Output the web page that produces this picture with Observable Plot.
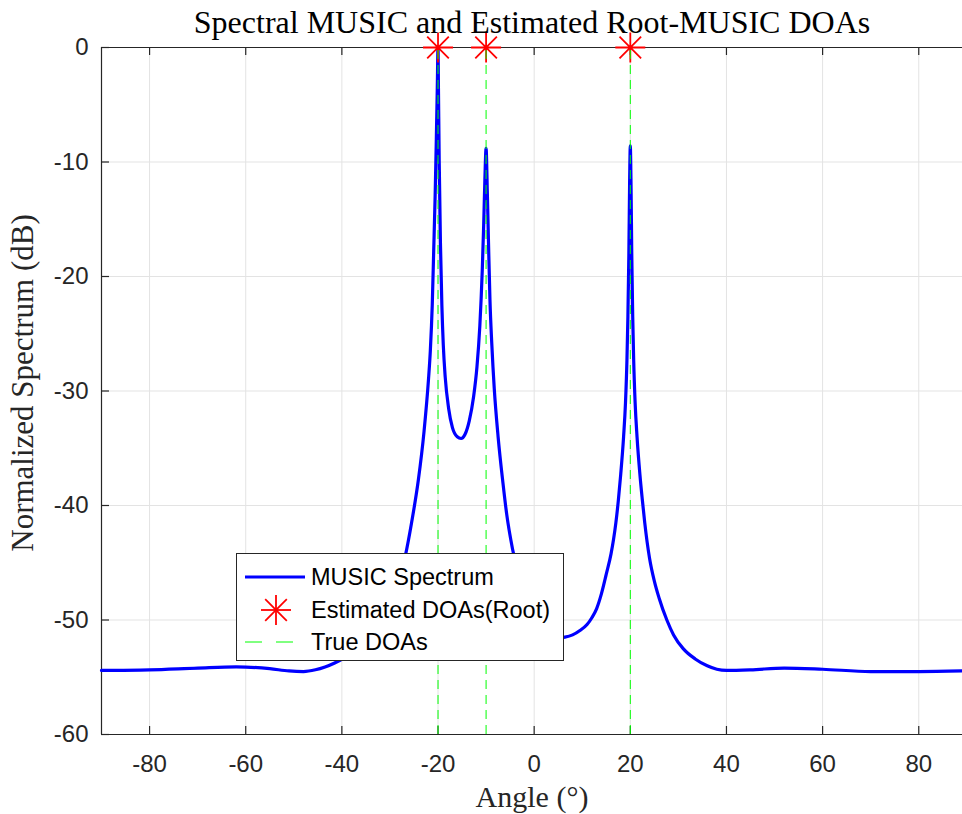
<!DOCTYPE html>
<html>
<head>
<meta charset="utf-8">
<script src="https://cdn.jsdelivr.net/npm/d3@7"></script>
<script src="https://cdn.jsdelivr.net/npm/@observablehq/plot@0.6"></script>
<style>
  html, body { margin: 0; padding: 0; background: #fff; overflow: hidden; }
  #wrap { position: relative; width: 962px; height: 814px; }
  #legend { position: absolute; left: 236px; top: 553px; width: 326px; height: 106px;
    background: #fff; border: 1px solid #262626; font-family: "Liberation Sans", Arial, sans-serif;
    font-size: 23.5px; color: #000; }
  .row { position: absolute; left: 0; height: 30px; display: flex; align-items: center; }
  .row svg { width: 70px; height: 30px; margin-left: 6px; flex: none; }
  .row span { margin-left: -2px; white-space: nowrap; }
</style>
</head>
<body>
<div id="wrap"></div>
<script>
// ---- data ----
const angle = [-90,-80,-70,-62,-55,-51,-48,-45.5,-43.5,-41.5,-39.5,-37.5,-35.5,-33.5,-31.5,-29.5,-28,-26.8,-25.5,-24.1,-22.9,-22,-21.6,-21.2,-20.9,-20.6,-20.35,-20.15,-20,
  -19.9,-19.75,-19.5,-19.2,-18.9,-18.5,-17.8,-17,-16,-15.2,-14.4,-13.5,-12.6,-11.9,-11.3,-10.8,-10.5,-10.25,-10,
  -9.75,-9.5,-9.2,-8.8,-8.3,-7.5,-6.5,-5.7,-4.5,-3,-1.5,0,2,4,6.4,8,9.6,11,12,13,14,15,16,16.5,17,17.5,18,18.6,19,19.3,19.5,19.7,19.85,20,
  20.15,20.3,20.5,20.7,21,21.4,22,22.5,23,23.5,24,25,26,27.6,29,31,33.5,36,38,40,45,52,60,70,80,89];
const spectrumDb = [-54.4,-54.35,-54.2,-54.1,-54.25,-54.45,-54.5,-54.35,-54.1,-53.75,-53.3,-52.7,-51.9,-50.9,-49.6,-48.0,-46.5,-44.4,-41.5,-37.8,-33.5,-29.1,-26.5,-22.5,-17.8,-13,-8,-3.5,0,
  -4,-10,-17,-22.5,-26,-28.8,-31.5,-33.2,-34,-34.15,-33.8,-32.6,-30.5,-27.9,-24.3,-19.5,-15.5,-11.5,-8.8,
  -12.5,-17,-22,-26,-29.8,-34,-38,-40.8,-43.8,-46.5,-48.5,-49.8,-50.9,-51.6,-51.5,-51.3,-50.9,-50.4,-49.8,-49.0,-47.7,-46.0,-44.2,-43.0,-41.5,-39.6,-37.3,-34,-31,-27.3,-23.5,-18,-12,-8.6,
  -12,-18,-23.5,-27.3,-31,-34,-37.3,-39.5,-41.5,-43.2,-44.6,-46.6,-48.1,-50,-51.3,-52.5,-53.4,-54,-54.3,-54.4,-54.35,-54.2,-54.3,-54.5,-54.5,-54.45];
const estDOAs = [-20, -10, 20];
const estDb = [0, 0, 0];
const trueDOAs = [-20, -10, 20];
const xTicks = [-80,-60,-40,-20,0,20,40,60,80];
const yTicks = [0,-10,-20,-30,-40,-50,-60];
const titleText = "Spectral MUSIC and Estimated Root-MUSIC DOAs";
const xLabel = "Angle (°)";
const yLabel = "Normalized Spectrum (dB)";
const legendLabels = ["MUSIC Spectrum", "Estimated DOAs(Root)", "True DOAs"];

const spectrum = angle.map((a, i) => ({a, v: spectrumDb[i]}));
const est = estDOAs.map((a, i) => ({a, v: estDb[i]}));

const asterisk = {
  draw(ctx, size) {
    const r = Math.sqrt(size / Math.PI);
    const d = r * 0.72;
    ctx.moveTo(-r, 0); ctx.lineTo(r, 0);
    ctx.moveTo(0, -r); ctx.lineTo(0, r);
    ctx.moveTo(-d, -d); ctx.lineTo(d, d);
    ctx.moveTo(-d, d); ctx.lineTo(d, -d);
  }
};

const axisColor = "#262626";
const gridColor = "#e3e3e3";
const sans = "'Liberation Sans', Arial, sans-serif";
const serif = "'Liberation Serif', 'DejaVu Serif', serif";

const xMin = -90, xMax = 89.1, yMin = -60, yMax = 0;
const tickLenX = 8 / 11.46;  // in dB units
const tickLenY = 8 / 4.81;   // in degree units
const fmt = d => String(d);

const chart = Plot.plot({
  width: 962,
  height: 814,
  marginLeft: 101,
  marginRight: 0,
  marginTop: 47,
  marginBottom: 80,
  x: {domain: [xMin, xMax]},
  y: {domain: [yMin, yMax]},
  style: {background: "#fff", overflow: "visible"},
  marks: [
    Plot.gridX(xTicks, {stroke: gridColor, strokeOpacity: 1}),
    Plot.gridY(yTicks, {stroke: gridColor, strokeOpacity: 1}),
    Plot.ruleX([xMin], {stroke: axisColor, strokeWidth: 1.2}),
    Plot.ruleY([yMin, yMax], {stroke: axisColor, strokeWidth: 1.2}),
    // inward ticks
    Plot.ruleX(xTicks, {y1: yMin, y2: yMin + tickLenX, stroke: axisColor, strokeWidth: 1.2}),
    Plot.ruleX(xTicks, {y1: yMax, y2: yMax - tickLenX, stroke: axisColor, strokeWidth: 1.2}),
    Plot.ruleY(yTicks, {x1: xMin, x2: xMin + tickLenY, stroke: axisColor, strokeWidth: 1.2}),
    Plot.axisX(xTicks, {anchor: "bottom", tickSize: 0, tickPadding: 20, fontSize: 24, fontFamily: sans, fill: axisColor, label: null, tickFormat: fmt}),
    Plot.axisY(yTicks, {anchor: "left", tickSize: 0, tickPadding: 13, fontSize: 24, fontFamily: sans, fill: axisColor, label: null, tickFormat: fmt}),
    Plot.line(spectrum, {x: "a", y: "v", stroke: "#0000ff", strokeWidth: 3.2, curve: "monotone-x"}),
    Plot.dot(est, {x: "a", y: "v", symbol: asterisk, r: 15, stroke: "#ff0000", strokeWidth: 1.8, fill: "none"}),
    Plot.ruleX(trueDOAs, {y1: yMin, y2: yMax, stroke: "#00ff00", strokeWidth: 1, strokeDasharray: "9,6"}),
    Plot.text([titleText], {frameAnchor: "top", dy: -25, lineAnchor: "middle", textAnchor: "middle", text: d => d, fontSize: 32, fontFamily: serif, fill: "#000"}),
    Plot.text([xLabel], {frameAnchor: "bottom", dy: 63, lineAnchor: "middle", textAnchor: "middle", text: d => d, fontSize: 30, fontFamily: serif, fill: "#262626"}),
    Plot.text([yLabel], {frameAnchor: "left", dx: -78, dy: -8, lineAnchor: "middle", textAnchor: "middle", rotate: -90, text: d => d, fontSize: 31, fontFamily: serif, fill: "#262626"})
  ]
});

const wrap = document.getElementById("wrap");
wrap.appendChild(chart);

// legend
const legend = document.createElement("div");
legend.id = "legend";
const rows = [
  {y: 8, icon: '<svg viewBox="0 0 70 30"><line x1="2" y1="15" x2="62" y2="15" stroke="#0000ff" stroke-width="3.2"/></svg>'},
  {y: 41, icon: '<svg viewBox="0 0 70 30"><g stroke="#ff0000" stroke-width="1.8"><line x1="18" y1="15" x2="48" y2="15"/><line x1="33" y1="0" x2="33" y2="30"/><line x1="22.2" y1="4.2" x2="43.8" y2="25.8"/><line x1="22.2" y1="25.8" x2="43.8" y2="4.2"/></g></svg>'},
  {y: 73, icon: '<svg viewBox="0 0 70 30"><line x1="2" y1="15" x2="62" y2="15" stroke="#00ff00" stroke-width="1" stroke-dasharray="17,14"/></svg>'}
];
rows.forEach((r, i) => {
  const d = document.createElement("div");
  d.className = "row";
  d.style.top = r.y + "px";
  d.innerHTML = r.icon + "<span>" + legendLabels[i] + "</span>";
  legend.appendChild(d);
});
wrap.appendChild(legend);
</script>
</body>
</html>
